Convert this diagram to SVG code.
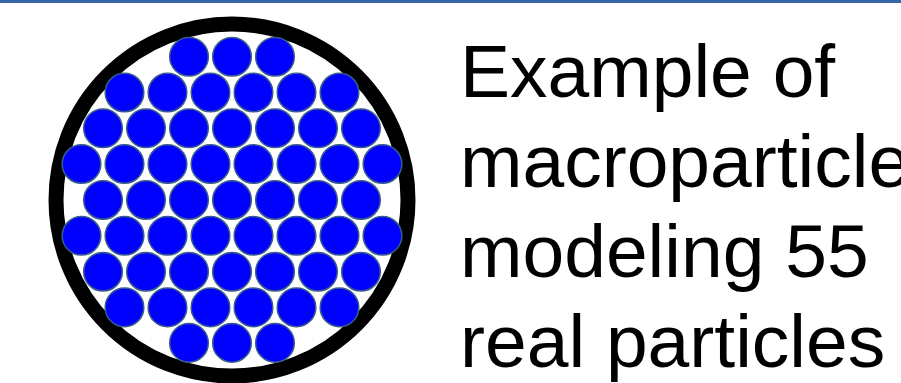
<svg xmlns="http://www.w3.org/2000/svg" width="901" height="383" viewBox="0 0 901 383">
<style>
.p{fill:#0000FF;stroke:#385D8A;stroke-width:1.5}
.t{font-family:"Liberation Sans",Arial,sans-serif;font-size:75px;fill:#000}
</style>
<rect x="0" y="0" width="901" height="383" fill="#fff"/>
<rect x="0" y="0" width="901" height="3" fill="#3666A6"/>
<g id="macroparticle">
<circle cx="232" cy="200" r="176" fill="#fff" stroke="#000" stroke-width="15"/>
<g id="row1"><circle class="p" cx="189" cy="56.8" r="19.3"/><circle class="p" cx="232" cy="56.8" r="19.3"/><circle class="p" cx="275" cy="56.8" r="19.3"/></g>
<g id="row2"><circle class="p" cx="124.5" cy="92.5" r="19.3"/><circle class="p" cx="167.5" cy="92.5" r="19.3"/><circle class="p" cx="210.5" cy="92.5" r="19.3"/><circle class="p" cx="253.5" cy="92.5" r="19.3"/><circle class="p" cx="296.5" cy="92.5" r="19.3"/><circle class="p" cx="339.5" cy="92.5" r="19.3"/></g>
<g id="row3"><circle class="p" cx="103" cy="128.3" r="19.3"/><circle class="p" cx="146" cy="128.3" r="19.3"/><circle class="p" cx="189" cy="128.3" r="19.3"/><circle class="p" cx="232" cy="128.3" r="19.3"/><circle class="p" cx="275" cy="128.3" r="19.3"/><circle class="p" cx="318" cy="128.3" r="19.3"/><circle class="p" cx="361" cy="128.3" r="19.3"/></g>
<g id="row4"><circle class="p" cx="81.5" cy="164" r="19.3"/><circle class="p" cx="124.5" cy="164" r="19.3"/><circle class="p" cx="167.5" cy="164" r="19.3"/><circle class="p" cx="210.5" cy="164" r="19.3"/><circle class="p" cx="253.5" cy="164" r="19.3"/><circle class="p" cx="296.5" cy="164" r="19.3"/><circle class="p" cx="339.5" cy="164" r="19.3"/><circle class="p" cx="382.5" cy="164" r="19.3"/></g>
<g id="row5"><circle class="p" cx="103" cy="200" r="19.3"/><circle class="p" cx="146" cy="200" r="19.3"/><circle class="p" cx="189" cy="200" r="19.3"/><circle class="p" cx="232" cy="200" r="19.3"/><circle class="p" cx="275" cy="200" r="19.3"/><circle class="p" cx="318" cy="200" r="19.3"/><circle class="p" cx="361" cy="200" r="19.3"/></g>
<g id="row6"><circle class="p" cx="81.5" cy="235.8" r="19.3"/><circle class="p" cx="124.5" cy="235.8" r="19.3"/><circle class="p" cx="167.5" cy="235.8" r="19.3"/><circle class="p" cx="210.5" cy="235.8" r="19.3"/><circle class="p" cx="253.5" cy="235.8" r="19.3"/><circle class="p" cx="296.5" cy="235.8" r="19.3"/><circle class="p" cx="339.5" cy="235.8" r="19.3"/><circle class="p" cx="382.5" cy="235.8" r="19.3"/></g>
<g id="row7"><circle class="p" cx="103" cy="271.7" r="19.3"/><circle class="p" cx="146" cy="271.7" r="19.3"/><circle class="p" cx="189" cy="271.7" r="19.3"/><circle class="p" cx="232" cy="271.7" r="19.3"/><circle class="p" cx="275" cy="271.7" r="19.3"/><circle class="p" cx="318" cy="271.7" r="19.3"/><circle class="p" cx="361" cy="271.7" r="19.3"/></g>
<g id="row8"><circle class="p" cx="124.5" cy="307.4" r="19.3"/><circle class="p" cx="167.5" cy="307.4" r="19.3"/><circle class="p" cx="210.5" cy="307.4" r="19.3"/><circle class="p" cx="253.5" cy="307.4" r="19.3"/><circle class="p" cx="296.5" cy="307.4" r="19.3"/><circle class="p" cx="339.5" cy="307.4" r="19.3"/></g>
<g id="row9"><circle class="p" cx="189" cy="342.9" r="19.3"/><circle class="p" cx="232" cy="342.9" r="19.3"/><circle class="p" cx="275" cy="342.9" r="19.3"/></g>
</g>
<g id="caption" class="t">
<text x="460" y="97">Example of</text>
<text x="460" y="187">macroparticle</text>
<text x="460" y="277">modeling 55</text>
<text x="460" y="367">real particles</text>
</g>
</svg>
